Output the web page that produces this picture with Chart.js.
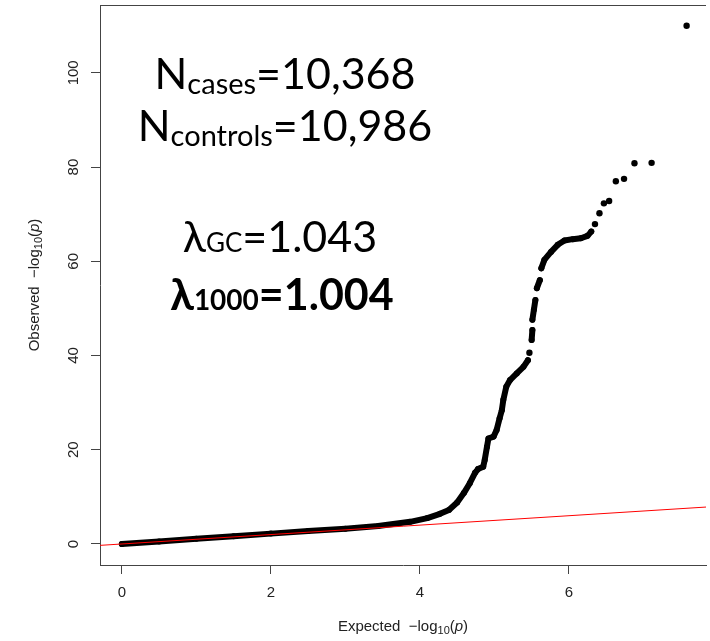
<!DOCTYPE html>
<html>
<head>
<meta charset="utf-8">
<script src="https://cdn.jsdelivr.net/npm/chart.js@4.4.1/dist/chart.umd.min.js"></script>
<style>
html,body{margin:0;padding:0;background:#fff;overflow:hidden;}
canvas{display:block;}
</style>
</head>
<body>
<canvas id="c" width="710" height="641"></canvas>
<script>
// Dense part of the QQ curve (null = visible gap between point clusters)
const expectedBand = [0.00, 0.50, 1.00, 1.50, 2.00, 2.50, 3.00, 3.44, 3.87, 4.10, 4.27, 4.39, 4.50, 4.59, 4.67, 4.74, 4.78, 4.85, 4.87, 4.90, 4.92, 4.99, 5.03, 5.07, 5.10, 5.12, 5.16, 5.21, 5.30, 5.39, 5.45,
  null, 5.50, 5.51,
  null, 5.51, 5.53, 5.55,
  null, 5.57, 5.61,
  null, 5.63, 5.67, 5.76, 5.85, 5.94, 6.05, 6.16, 6.25, 6.30];
const observedBand = [0.00, 0.55, 1.10, 1.65, 2.20, 2.75, 3.25, 3.80, 4.70, 5.50, 6.40, 7.20, 8.80, 10.8, 12.9, 15.1, 15.9, 16.4, 17.8, 20.6, 22.4, 22.8, 24.2, 26.7, 28.4, 30.6, 33.4, 34.8, 36.2, 37.6, 39.0,
  null, 43.3, 45.4,
  null, 47.6, 49.7, 51.8,
  null, 54.3, 56.0,
  null, 58.5, 60.3, 62.0, 63.5, 64.4, 64.7, 64.9, 65.4, 66.3];
// Isolated points in the tail
const expectedTail = [5.47, 6.35, 6.41, 6.47, 6.54, 6.63, 6.74, 6.88, 7.11, 7.58];
const observedTail = [40.6, 67.9, 70.2, 72.3, 72.8, 77.0, 77.5, 80.8, 80.9, 110.0];
// y = x reference line end values
const refLine = [-0.3, 7.9];
const xTicks = [0, 2, 4, 6];
const yTicks = [0, 20, 40, 60, 80, 100];

const bandData = expectedBand.map((x, i) => ({x: x, y: observedBand[i]}));
const tailData = expectedTail.map((x, i) => ({x: x, y: observedTail[i]}));
const refData = refLine.map(v => ({x: v, y: v}));

const AXIS = '#444';
const TXT = '#222';
const AX_FONT = '"Liberation Sans", Arial, sans-serif';
const ANN_FONT = 'Lato, "Noto Sans", sans-serif';

function richWidth(ctx, parts) {
  let w = 0;
  for (const p of parts) { ctx.font = p.font; w += ctx.measureText(p.t).width; }
  return w;
}
function drawRich(ctx, parts, cx, by) {
  const w = richWidth(ctx, parts);
  let x = cx - w / 2;
  for (const p of parts) {
    ctx.font = p.font;
    ctx.fillText(p.t, x, by + (p.dy || 0));
    x += ctx.measureText(p.t).width;
  }
}

const decor = {
  id: 'decor',
  afterDraw(chart) {
    const ctx = chart.ctx;
    const a = chart.chartArea;
    const xs = chart.scales.x, ys = chart.scales.y;
    ctx.save();
    // top border of the box
    ctx.strokeStyle = AXIS; ctx.lineWidth = 1;
    ctx.beginPath(); ctx.moveTo(a.left, Math.round(a.top) + 0.5); ctx.lineTo(a.right, Math.round(a.top) + 0.5); ctx.stroke();

    ctx.fillStyle = TXT;
    ctx.textAlign = 'center';
    ctx.textBaseline = 'middle';
    ctx.font = '15px ' + AX_FONT;
    // x tick labels
    for (const t of xs.ticks) {
      ctx.fillText(String(t.value), xs.getPixelForValue(t.value), 593);
    }
    // y tick labels (rotated)
    for (const t of ys.ticks) {
      ctx.save();
      ctx.translate(74, ys.getPixelForValue(t.value));
      ctx.rotate(-Math.PI / 2);
      ctx.fillText(String(t.value), 0, 0);
      ctx.restore();
    }
    // axis titles
    ctx.textAlign = 'left';
    ctx.textBaseline = 'middle';
    const f = '15px ' + AX_FONT, fs = '11px ' + AX_FONT, fi = 'italic 15px ' + AX_FONT;
    const xt = [{t: 'Expected  \u2212log', font: f}, {t: '10', font: fs, dy: 4}, {t: '(', font: f}, {t: 'p', font: fi}, {t: ')', font: f}];
    drawRich(ctx, xt, (a.left + a.right) / 2, 627);
    const yt = [{t: 'Observed  \u2212log', font: f}, {t: '10', font: fs, dy: 4}, {t: '(', font: f}, {t: 'p', font: fi}, {t: ')', font: f}];
    ctx.save();
    ctx.translate(35, (a.top + a.bottom) / 2);
    ctx.rotate(-Math.PI / 2);
    drawRich(ctx, yt, 0, 0);
    ctx.restore();

    // annotation
    ctx.fillStyle = '#000';
    ctx.textBaseline = 'alphabetic';
    const big = '43px ' + ANN_FONT, sub = '29px ' + ANN_FONT;
    drawRich(ctx, [{t: 'N', font: big}, {t: 'cases', font: sub, dy: 5}, {t: '=10,368', font: big}], 285, 89);
    drawRich(ctx, [{t: 'N', font: big}, {t: 'controls', font: sub, dy: 5}, {t: '=10,986', font: big}], 285, 141);
    drawRich(ctx, [{t: '\u03bb', font: big}, {t: 'GC', font: '26px ' + ANN_FONT}, {t: '=1.043', font: big}], 280, 252);
    drawRich(ctx, [{t: '\u03bb', font: 'bold 43px ' + ANN_FONT}, {t: '1000', font: 'bold 28px ' + ANN_FONT}, {t: '=1.004', font: 'bold 43px ' + ANN_FONT}], 282, 310);
    ctx.restore();
  }
};

new Chart(document.getElementById('c'), {
  type: 'scatter',
  data: {
    datasets: [
      {
        type: 'line', data: refData, order: 0,
        borderColor: '#ff0000', borderWidth: 1, pointRadius: 0, showLine: true
      },
      {
        type: 'line', data: bandData, order: 1,
        borderColor: '#000', borderWidth: 6, borderCapStyle: 'round', borderJoinStyle: 'round',
        pointRadius: 3, pointBackgroundColor: '#000', pointBorderWidth: 0,
        showLine: true, spanGaps: false, tension: 0
      },
      {
        type: 'scatter', data: tailData, order: 2,
        pointRadius: 3.2, pointBackgroundColor: '#000', pointBorderWidth: 0, showLine: false
      }
    ]
  },
  options: {
    responsive: false,
    devicePixelRatio: 1,
    animation: false,
    events: [],
    layout: {padding: {top: 5, right: 0, left: 0, bottom: 0}},
    plugins: {legend: {display: false}, tooltip: {enabled: false}},
    scales: {
      x: {
        type: 'linear', position: 'bottom', min: -0.293, max: 7.84,
        afterBuildTicks: s => { s.ticks = xTicks.map(v => ({value: v})); },
        afterFit: s => { s.height = 76; },
        grid: {drawOnChartArea: false, drawTicks: true, tickLength: 9, color: AXIS, lineWidth: 1},
        border: {display: true, color: AXIS, width: 1},
        ticks: {display: false}
      },
      y: {
        type: 'linear', position: 'left', min: -4.46, max: 114.4,
        afterBuildTicks: s => { s.ticks = yTicks.map(v => ({value: v})); },
        afterFit: s => { s.width = 100; },
        grid: {drawOnChartArea: false, drawTicks: true, tickLength: 9, color: AXIS, lineWidth: 1},
        border: {display: true, color: AXIS, width: 1},
        ticks: {display: false}
      }
    }
  },
  plugins: [decor]
});
</script>
</body>
</html>
